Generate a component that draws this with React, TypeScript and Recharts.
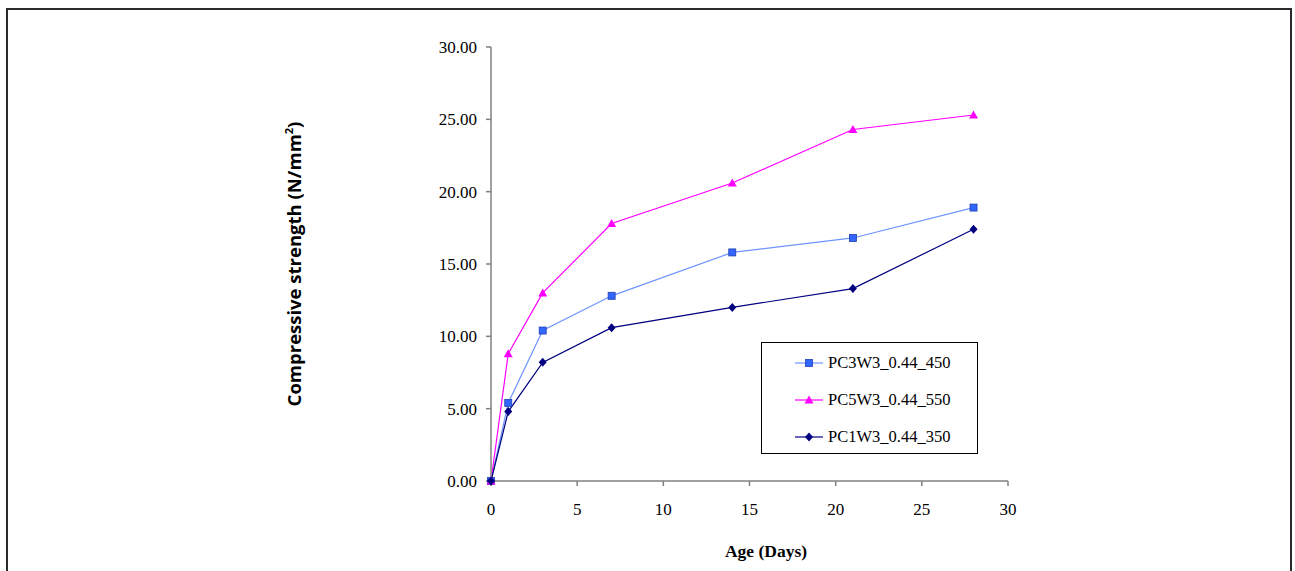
import { LineChart, Line, XAxis, YAxis } from 'recharts'

const days = [0, 1, 3, 7, 14, 21, 28]
const pc3w3 = [0, 5.4, 10.4, 12.8, 15.8, 16.8, 18.9]
const pc5w3 = [0, 8.8, 13.0, 17.8, 20.6, 24.3, 25.3]
const pc1w3 = [0, 4.8, 8.2, 10.6, 12.0, 13.3, 17.4]
const xTicks = [0, 5, 10, 15, 20, 25, 30]
const yTicks = [0, 5, 10, 15, 20, 25, 30]

const data = days.map((d, i) => ({ day: d, pc3: pc3w3[i], pc5: pc5w3[i], pc1: pc1w3[i] }))

const BLUE_LINE = '#6f94ff'
const BLUE = '#3366ff'
const MAGENTA = '#ff00ff'
const NAVY = '#000080'
const SERIF = '"Liberation Serif", "Times New Roman", serif'

function Square({ cx, cy, fill }: { cx?: number; cy?: number; fill: string }) {
  if (cx == null || cy == null) return <g />
  return <rect x={cx - 3.5} y={cy - 3.5} width={7} height={7} fill={fill} stroke="#1f3fae" strokeWidth={0.8} />
}

function Triangle({ cx, cy, fill }: { cx?: number; cy?: number; fill: string }) {
  if (cx == null || cy == null) return <g />
  return <polygon points={`${cx},${cy - 4.5} ${cx + 4.5},${cy + 3.5} ${cx - 4.5},${cy + 3.5}`} fill={fill} />
}

function Diamond({ cx, cy, fill }: { cx?: number; cy?: number; fill: string }) {
  if (cx == null || cy == null) return <g />
  return <polygon points={`${cx},${cy - 4.5} ${cx + 4},${cy} ${cx},${cy + 4.5} ${cx - 4},${cy}`} fill={fill} />
}

const legendItems = [
  { name: 'PC3W3_0.44_450', line: BLUE_LINE, marker: (x: number, y: number) => <Square cx={x} cy={y} fill={BLUE} /> },
  { name: 'PC5W3_0.44_550', line: MAGENTA, marker: (x: number, y: number) => <Triangle cx={x} cy={y} fill={MAGENTA} /> },
  { name: 'PC1W3_0.44_350', line: NAVY, marker: (x: number, y: number) => <Diamond cx={x} cy={y} fill={NAVY} /> },
]

function LegendBox() {
  return (
    <div style={{
      position: 'absolute', left: 761, top: 342, width: 215, height: 110,
      border: '1px solid #000', background: '#fff',
    }}>
      {legendItems.map((it, i) => (
        <div key={it.name} style={{ position: 'absolute', left: 32, top: 8 + i * 37, height: 24, display: 'flex', alignItems: 'center' }}>
          <svg width={30} height={24}>
            <line x1={1} y1={12} x2={29} y2={12} stroke={it.line} strokeWidth={1.2} />
            {it.marker(15, 12)}
          </svg>
          <span style={{ fontFamily: SERIF, fontSize: 16.5, color: '#000', marginLeft: 4 }}>{it.name}</span>
        </div>
      ))}
    </div>
  )
}

export default function App() {
  const tickStyle = { fill: '#000', fontSize: 17, fontFamily: SERIF }
  return (
    <div style={{ position: 'absolute', left: 0, top: 0, width: 1295, height: 571, background: '#fff', overflow: 'hidden' }}>
      <div style={{
        position: 'absolute', left: 6, top: 8, width: 1282, height: 600,
        borderTop: '2px solid #2a2a2a', borderLeft: '2px solid #2a2a2a', borderRight: '2px solid #2a2a2a',
      }} />
      <LineChart width={1295} height={571} data={data} margin={{ top: 47, right: 287, left: 431, bottom: 50 }}
        style={{ position: 'absolute', left: 0, top: 0 }}>
        <XAxis
          type="number" dataKey="day" domain={[0, 30]} ticks={xTicks} interval={0}
          tick={tickStyle} tickSize={5} tickMargin={17} height={40}
          axisLine={{ stroke: '#808080', strokeWidth: 1.5 }} tickLine={{ stroke: '#808080', strokeWidth: 1.5 }}
        />
        <YAxis
          type="number" domain={[0, 30]} ticks={yTicks} interval={0}
          tickFormatter={(v: number) => v.toFixed(2)}
          tick={tickStyle} tickSize={5} tickMargin={9} width={60}
          axisLine={{ stroke: '#808080', strokeWidth: 1.5 }} tickLine={{ stroke: '#808080', strokeWidth: 1.5 }}
        />
        <Line type="linear" dataKey="pc3" name="PC3W3_0.44_450" stroke={BLUE_LINE} strokeWidth={1.2}
          dot={(p: any) => <Square key={p.index} cx={p.cx} cy={p.cy} fill={BLUE} />} isAnimationActive={false} />
        <Line type="linear" dataKey="pc5" name="PC5W3_0.44_550" stroke={MAGENTA} strokeWidth={1.2}
          dot={(p: any) => <Triangle key={p.index} cx={p.cx} cy={p.cy} fill={MAGENTA} />} isAnimationActive={false} />
        <Line type="linear" dataKey="pc1" name="PC1W3_0.44_350" stroke={NAVY} strokeWidth={1.2}
          dot={(p: any) => <Diamond key={p.index} cx={p.cx} cy={p.cy} fill={NAVY} />} isAnimationActive={false} />
      </LineChart>
      <LegendBox />
      <div style={{
        position: 'absolute', left: 293, top: 264, transform: 'translate(-50%, -50%) rotate(-90deg)',
        whiteSpace: 'nowrap', fontFamily: '"Open Sans", sans-serif', fontWeight: 700, fontSize: 18.5, color: '#000',
      }}>
        Compressive strength (N/mm<sup style={{ fontSize: 11 }}>2</sup>)
      </div>
      <div style={{
        position: 'absolute', left: 766, top: 551, transform: 'translate(-50%, -50%)',
        whiteSpace: 'nowrap', fontFamily: SERIF, fontWeight: 700, fontSize: 17.5, color: '#000',
      }}>
        Age (Days)
      </div>
    </div>
  )
}
